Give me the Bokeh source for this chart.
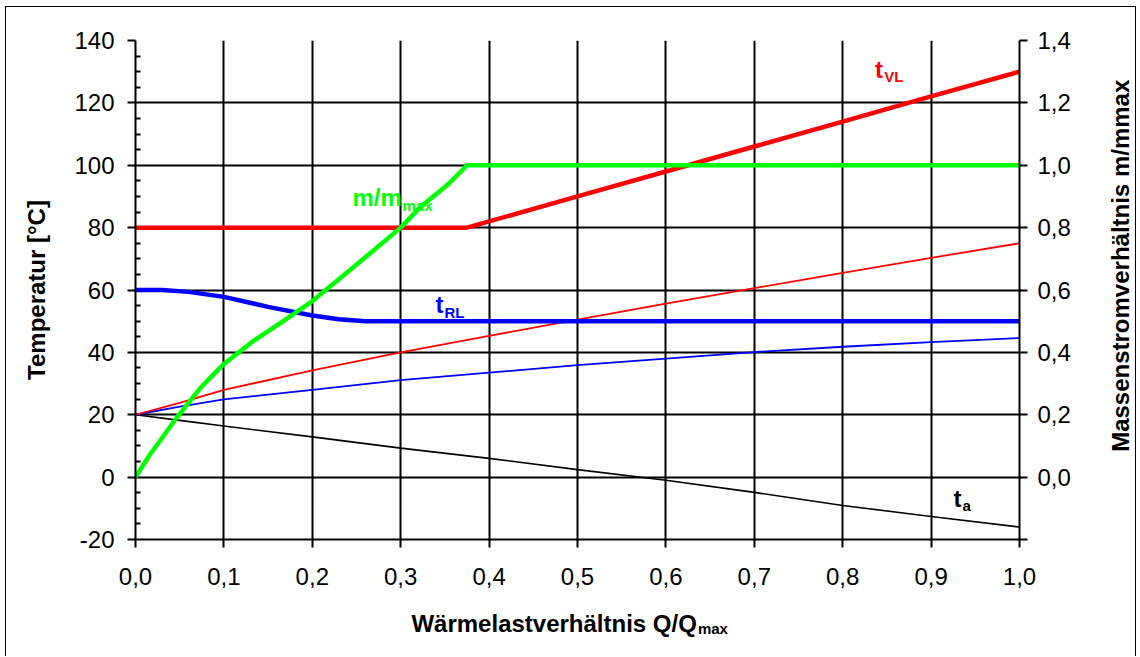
import math
from bokeh.plotting import figure
from bokeh.layouts import row
from bokeh.models import Range1d, LinearAxis, FixedTicker, CustomJSTickFormatter, Label
from bokeh.embed import file_html
from bokeh.resources import INLINE

# ---------------- data ----------------
# thin curves: x = heat load ratio Q/Qmax
load_thin = [0.0, 0.05, 0.1, 0.2, 0.3, 0.4, 0.5, 0.6, 0.7, 0.8, 0.9, 1.0]
t_vl_min = [20, 23.8, 28.0, 34.2, 40.0, 45.3, 50.5, 55.6, 60.6, 65.5, 70.3, 75.0]
t_rl_min = [20, 22.6, 24.9, 28.0, 31.1, 33.5, 35.9, 38.0, 40.1, 41.8, 43.3, 44.6]
t_a = [20, 18.2, 16.4, 12.9, 9.3, 6.0, 2.4, -1.0, -4.9, -9.1, -12.6, -16.0]

# flow temperature t_VL
load_vl = [0.0, 0.375, 0.5, 0.6, 0.7, 0.8, 0.9, 1.0]
t_vl = [80, 80, 90.0, 98.0, 106.0, 114.0, 122.1, 130.0]

# return temperature t_RL
load_rl = [0.0, 0.03, 0.06, 0.10, 0.15, 0.20, 0.23, 0.26, 1.0]
t_rl = [60, 60, 59.4, 57.8, 54.6, 51.8, 50.6, 50.0, 50.0]

# mass flow ratio m/mmax (right axis)
load_m = [0.0, 0.017, 0.047, 0.074, 0.10, 0.134, 0.168, 0.198, 0.228, 0.26,
          0.30, 0.322, 0.354, 0.375, 0.45, 0.55, 0.65, 0.75, 0.85, 0.95, 1.0]
m_ratio = [0.0, 0.075, 0.192, 0.288, 0.363, 0.438, 0.502, 0.56, 0.63, 0.705,
           0.80, 0.865, 0.94, 1.0, 1.0, 1.0, 1.0, 1.0, 1.0, 1.0, 1.0]

# ticks
x_ticks = [0.0, 0.1, 0.2, 0.3, 0.4, 0.5, 0.6, 0.7, 0.8, 0.9, 1.0]
y_ticks = [-20, 0, 20, 40, 60, 80, 100, 120, 140]
m_ticks = [-0.2, 0.0, 0.2, 0.4, 0.6, 0.8, 1.0, 1.2, 1.4]

# ---------------- styling ----------------
FONT = "Liberation Sans"
RED = "#FF0000"
BLUE = "#0000FF"
GREEN = "#00FF00"
NB = "\u00a0"

W_MAIN, W_SIDE, H = 1075, 54, 649

p = figure(width=W_MAIN, height=H,
           x_range=Range1d(0, 1), y_range=Range1d(-20, 140),
           output_backend="svg", toolbar_location=None,
           min_border_left=129, min_border_right=62,
           min_border_top=33, min_border_bottom=117)
p.extra_y_ranges = {"m": Range1d(-0.2, 1.4)}
p.outline_line_color = None
p.background_fill_color = "white"
p.border_fill_color = "white"

minor = [t + d for t in y_ticks[:-1] for d in (5, 10, 15)]

# axes
xa = p.xaxis[0]
xa.ticker = FixedTicker(ticks=x_ticks)
xa.formatter = CustomJSTickFormatter(code="return tick.toFixed(1).replace('.', ',');")
ya = p.yaxis[0]
ya.ticker = FixedTicker(ticks=y_ticks, minor_ticks=minor)
ya.formatter = CustomJSTickFormatter(code="return tick.toFixed(0);")
ra = LinearAxis(y_range_name="m", ticker=FixedTicker(ticks=m_ticks),
                formatter=CustomJSTickFormatter(
                    code="return tick < -0.001 ? '' : tick.toFixed(1).replace('.', ',');"))
p.add_layout(ra, "right")
# second (label only) bottom axis carrying the subscript "max" of the x title
xs = LinearAxis(ticker=FixedTicker(ticks=[]))
p.add_layout(xs, "below")

for ax in (xa, ya, ra, xs):
    ax.axis_line_color = "black"
    ax.axis_line_width = 2
    ax.major_tick_line_color = "black"
    ax.major_tick_line_width = 2
    ax.major_tick_in = 0
    ax.major_tick_out = 8
    ax.minor_tick_in = 0
    ax.minor_tick_out = 0
    ax.major_label_text_font = FONT
    ax.major_label_text_font_size = "24px"
    ax.major_label_text_color = "black"
    ax.axis_label_text_font = FONT
    ax.axis_label_text_font_size = "24px"
    ax.axis_label_text_font_style = "bold"
    ax.axis_label_text_color = "black"
ya.minor_tick_in = 5
ya.minor_tick_out = 0
ya.minor_tick_line_color = "black"
ya.minor_tick_line_width = 2
xa.major_label_standoff = 20
ya.major_label_standoff = 13
ra.major_label_standoff = 10

xs.axis_line_color = None
xs.major_tick_line_color = None
xs.major_tick_out = 0
xs.major_label_standoff = 0
xs.axis_label = NB * 65 + "max"
xs.axis_label_text_font_size = "15px"
xs.axis_label_standoff = -20

ya.axis_label = "Temperatur [°C]"
ya.axis_label_standoff = 21
xa.axis_label = "Wärmelastverhältnis Q/Q" + NB * 7
xa.axis_label_standoff = 22

p.xgrid.ticker = FixedTicker(ticks=x_ticks)
p.ygrid.ticker = FixedTicker(ticks=y_ticks)
for g in (p.xgrid[0], p.ygrid[0]):
    g.grid_line_color = "black"
    g.grid_line_width = 2

# lines
p.line(load_thin, t_a, line_color="black", line_width=1.6)
p.line(load_thin, t_rl_min, line_color=BLUE, line_width=1.8)
p.line(load_thin, t_vl_min, line_color=RED, line_width=1.8)
p.line(load_rl, t_rl, line_color=BLUE, line_width=4.5, line_join="round")
p.line(load_vl, t_vl, line_color=RED, line_width=4.5, line_join="round")
p.line(load_m, m_ratio, line_color=GREEN, line_width=4.5, line_join="round",
       y_range_name="m")


def lab(fig, x, y, text, color, size, **kw):
    fig.add_layout(Label(x=x, y=y, text=text, text_color=color, text_font=FONT,
                         text_font_size=f"{size}px", text_font_style="bold",
                         text_baseline="alphabetic", **kw))


# in-chart labels (y raised a little to compensate baseline placement)
Y24 = 2.7
Y15 = 1.7
lab(p, 0.8365, 128.1 + Y24, "t", RED, 24)
lab(p, 0.847, 126.9 + Y15, "VL", RED, 15)
lab(p, 0.2455, 87.1 + Y24, "m/m", GREEN, 24)
lab(p, 0.302, 85.5 + Y15, "max", GREEN, 15)
lab(p, 0.3394, 52.5 + Y24, "t", BLUE, 24)
lab(p, 0.3495, 51.2 + Y15, "RL", BLUE, 15)
lab(p, 0.9253, -9.7 + Y24, "t", "black", 24)
lab(p, 0.9355, -10.9 + Y15, "a", "black", 15)

# narrow side panel holding the right axis title (reads bottom to top)
side = figure(width=W_SIDE, height=H, x_range=Range1d(0, W_SIDE), y_range=Range1d(0, H),
              output_backend="svg", toolbar_location=None,
              x_axis_location=None, y_axis_location=None,
              min_border=0)
side.xgrid.visible = False
side.ygrid.visible = False
side.outline_line_color = None
side.background_fill_color = "white"
side.border_fill_color = "white"
lab(side, 39.2, 356, "Massenstromverhältnis m/mmax", "black", 24,
    angle=math.pi / 2, text_align="center")

layout = row(p, side)
layout.styles = {"margin-left": "6px", "margin-top": "7px",
                 "outline": "1px solid black", "outline-offset": "0px",
                 "clip-path": "inset(-3px -3px 0px -3px)"}

open("out.html", "w").write(file_html(layout, INLINE))
